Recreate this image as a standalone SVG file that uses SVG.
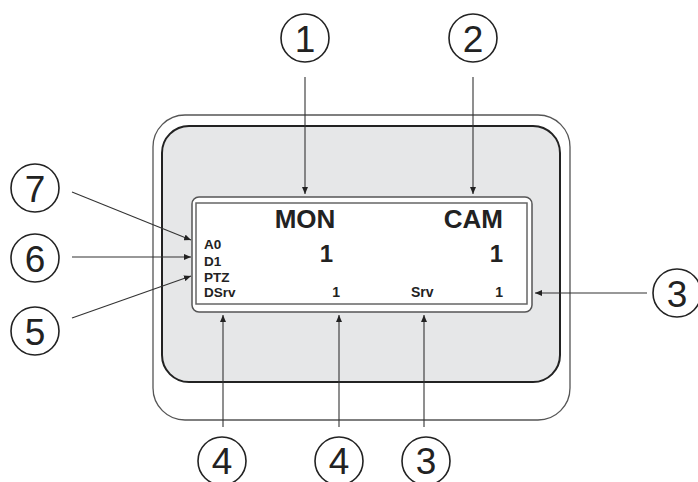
<svg xmlns="http://www.w3.org/2000/svg" width="698" height="482" viewBox="0 0 698 482">
<defs>
<marker id="ah" markerUnits="userSpaceOnUse" markerWidth="8" markerHeight="6" refX="7" refY="3" orient="auto">
<path d="M0,0 L7,3 L0,6 Z" fill="#222"/>
</marker>
<style>
.c{fill:none;stroke:#222;stroke-width:1.6}
.n{font-family:"Liberation Sans",Arial,sans-serif;font-size:37px;fill:#222;text-anchor:middle}
.l{stroke:#333;stroke-width:1.1;fill:none;marker-end:url(#ah)}
.b{font-family:"Liberation Sans",Arial,sans-serif;font-weight:bold;fill:#222}
</style>
</defs>
<rect width="698" height="482" fill="#fff"/>
<g id="device">
<rect x="153" y="115" width="417" height="305" rx="32" fill="#fff" stroke="#555" stroke-width="1.3"/>
<rect x="162" y="126" width="398" height="256" rx="27" fill="#e6e7e8" stroke="#222" stroke-width="2"/>
</g>
<g id="screen">
<rect x="192" y="197" width="340" height="115" rx="7" fill="#fff" stroke="#555" stroke-width="1.5"/>
<rect x="196" y="203" width="331" height="101" fill="none" stroke="#666" stroke-width="1.5"/>
<text class="b" x="305" y="228" font-size="26" text-anchor="middle">MON</text>
<text class="b" x="503" y="228" font-size="26" text-anchor="end">CAM</text>
<text class="b" x="333" y="262" font-size="24" text-anchor="end">1</text>
<text class="b" x="503" y="262" font-size="24" text-anchor="end">1</text>
<text class="b" x="204" y="249" font-size="13.5">A0</text>
<text class="b" x="204" y="265.5" font-size="13.5">D1</text>
<text class="b" x="204" y="281.5" font-size="13.5">PTZ</text>
<text class="b" x="204" y="296.5" font-size="13.5">DSrv</text>
<text class="b" x="340" y="297" font-size="14" text-anchor="end">1</text>
<text class="b" x="411" y="297" font-size="14">Srv</text>
<text class="b" x="503" y="297" font-size="14" text-anchor="end">1</text>
</g>
<g id="connectors">
<line class="l" x1="305" y1="77" x2="305" y2="194"/>
<line class="l" x1="473" y1="77" x2="473" y2="194"/>
<line class="l" x1="72" y1="192" x2="191" y2="240"/>
<line class="l" x1="72" y1="257" x2="191" y2="257"/>
<line class="l" x1="72" y1="318" x2="191" y2="276"/>
<line class="l" x1="647" y1="293" x2="535" y2="293"/>
<line class="l" x1="223" y1="427" x2="223" y2="315"/>
<line class="l" x1="339" y1="427" x2="339" y2="315"/>
<line class="l" x1="424" y1="427" x2="424" y2="315"/>
</g>
<g id="c1"><circle class="c" cx="305" cy="38" r="24"/><text class="n" x="305" y="52">1</text></g>
<g id="c2"><circle class="c" cx="473" cy="38" r="24"/><text class="n" x="473" y="52">2</text></g>
<g id="c7"><circle class="c" cx="35" cy="188" r="24"/><text class="n" x="35" y="202">7</text></g>
<g id="c6"><circle class="c" cx="35" cy="258" r="24"/><text class="n" x="35" y="272">6</text></g>
<g id="c5"><circle class="c" cx="35" cy="331" r="24"/><text class="n" x="35" y="345">5</text></g>
<g id="c3r"><circle class="c" cx="677" cy="293" r="24"/><text class="n" x="677" y="307">3</text></g>
<g id="c4a"><circle class="c" cx="222" cy="461" r="24"/><text class="n" x="222" y="474">4</text></g>
<g id="c4b"><circle class="c" cx="339" cy="461" r="24"/><text class="n" x="339" y="474">4</text></g>
<g id="c3b"><circle class="c" cx="426" cy="461" r="24"/><text class="n" x="426" y="474">3</text></g>
</svg>
